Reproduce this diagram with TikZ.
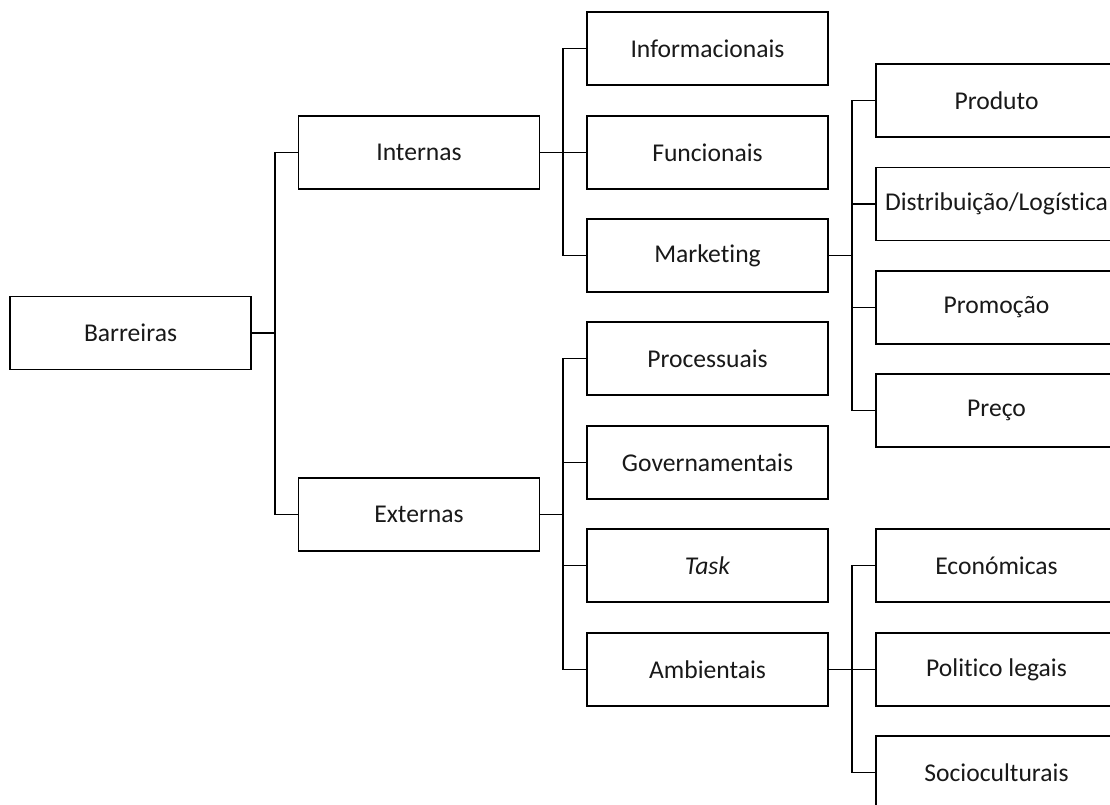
\documentclass[tikz,border=0pt]{standalone}
\usepackage{fontspec}
\setmainfont[Ligatures=NoCommon]{Carlito}
\begin{document}
\begin{tikzpicture}[x=1pt,y=-1pt,
  box/.style={draw=black,line width=1.9pt,fill=white,minimum width=241pt,minimum height=73pt,
    inner sep=0pt,font=\fontsize{25.6}{30}\selectfont,text=black!90},
  link/.style={draw=black,line width=1.9pt}]
\useasboundingbox (0,0) rectangle (1110,805);
\clip (0,0) rectangle (1110,805);
\fill[white] (0,0) rectangle (1110,805);

% root and first level
\node[box] (bar) at (130.5,333) {Barreiras};
\node[box] (int) at (419,152.5) {Internas};
\node[box] (ext) at (419,514.5) {Externas};

% second level
\node[box] (inf) at (707.5,48.5) {Informacionais};
\node[box] (fun) at (707.5,152.5) {Funcionais};
\node[box] (mkt) at (707.5,255.5) {Marketing};
\node[box] (pro) at (707.5,358.5) {Processuais};
\node[box] (gov) at (707.5,462.5) {Governamentais};
\node[box] (tsk) at (707.5,565.5) {\itshape Task};
\node[box] (amb) at (707.5,669.5) {Ambientais};

% third level
\node[box] (prd) at (996.5,100.5) {Produto};
\node[box] (dis) at (996.5,204) {Distribuição/Logística};
\node[box] (prm) at (996.5,307.5) {Promoção};
\node[box] (prc) at (996.5,410.5) {Preço};
\node[box] (eco) at (996.5,565.5) {Económicas};
\node[box] (pol) at (996.5,669.5) {Politico legais};
\node[box] (soc) at (996.5,772.5) {Socioculturais};

% branch coordinates
\coordinate (j0) at (275,333);
\coordinate (j1) at (563,152.5);
\coordinate (j2) at (563,514.5);
\coordinate (j3) at (852,255.5);
\coordinate (j4) at (852,669.5);

% elbow connectors
\draw[link] (bar.east) -- (j0);
\foreach \t in {int,ext} \draw[link] (j0) |- (\t.west);
\draw[link] (int.east) -- (j1);
\foreach \t in {inf,fun,mkt} \draw[link] (j1) |- (\t.west);
\draw[link] (ext.east) -- (j2);
\foreach \t in {pro,gov,tsk,amb} \draw[link] (j2) |- (\t.west);
\draw[link] (mkt.east) -- (j3);
\foreach \t in {prd,dis,prm,prc} \draw[link] (j3) |- (\t.west);
\draw[link] (amb.east) -- (j4);
\foreach \t in {eco,pol,soc} \draw[link] (j4) |- (\t.west);
\end{tikzpicture}
\end{document}
